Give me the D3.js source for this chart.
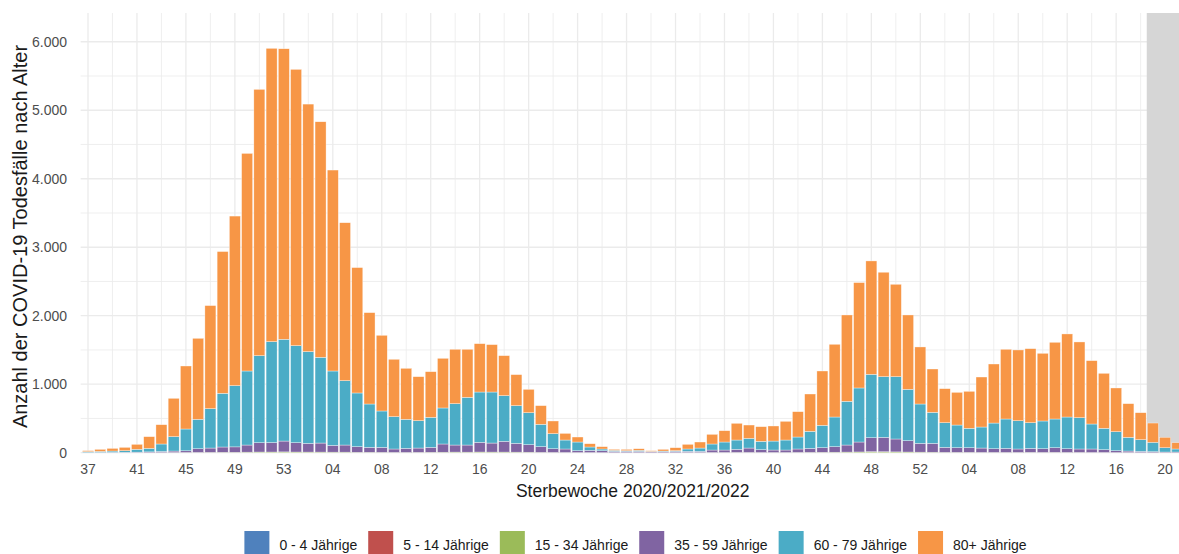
<!DOCTYPE html>
<html lang="de">
<head>
    <meta charset="UTF-8">
    <title>COVID-19 Todesfälle nach Alter</title>
    <style>
        body { margin: 0; background: #fff; }
        svg { display: block; font-family: "Liberation Sans", Arial, sans-serif; }
    </style>
</head>
<body>
<script src="https://d3js.org/d3.v7.min.js"></script>
<script>
    // Sterbewochen 2020-37 ... 2022-21
    var weeks = [
        '2020-37','2020-38','2020-39','2020-40','2020-41','2020-42','2020-43','2020-44','2020-45','2020-46',
        '2020-47','2020-48','2020-49','2020-50','2020-51','2020-52','2020-53',
        '2021-01','2021-02','2021-03','2021-04','2021-05','2021-06','2021-07','2021-08','2021-09','2021-10',
        '2021-11','2021-12','2021-13','2021-14','2021-15','2021-16','2021-17','2021-18','2021-19','2021-20',
        '2021-21','2021-22','2021-23','2021-24','2021-25','2021-26','2021-27','2021-28','2021-29','2021-30',
        '2021-31','2021-32','2021-33','2021-34','2021-35','2021-36','2021-37','2021-38','2021-39','2021-40',
        '2021-41','2021-42','2021-43','2021-44','2021-45','2021-46','2021-47','2021-48','2021-49','2021-50',
        '2021-51','2021-52',
        '2022-01','2022-02','2022-03','2022-04','2022-05','2022-06','2022-07','2022-08','2022-09','2022-10',
        '2022-11','2022-12','2022-13','2022-14','2022-15','2022-16','2022-17','2022-18','2022-19','2022-20',
        '2022-21'
    ];

    var ageGroups = ['0 - 4 Jährige', '5 - 14 Jährige', '15 - 34 Jährige', '35 - 59 Jährige', '60 - 79 Jährige', '80+ Jährige'];
    var colors = ['#4f81bd', '#c0504d', '#9bbb59', '#8064a2', '#4bacc6', '#f79646'];

    var age0to4 = [
        0,0,0,0,0,0,0,0,0,0, 0,0,0,0,1,0,1,0,0,0, 0,0,0,0,0,0,0,0,0,0,
        1,0,0,0,0,0,0,0,0,0, 0,0,0,0,0,0,0,0,0,0, 0,0,0,0,0,0,0,0,0,0,
        0,0,0,0,1,0,0,0,0,0, 0,0,0,0,0,0,0,1,0,0, 0,0,0,0,0,0,0,0,0,0
    ];
    var age5to14 = [
        0,0,0,0,0,0,0,0,0,0, 0,0,0,0,0,0,0,0,0,0, 0,0,0,0,0,0,0,0,0,0,
        0,0,1,0,0,0,0,0,0,0, 0,0,0,0,0,0,0,0,0,0, 0,0,0,0,0,0,0,0,0,0,
        0,0,0,0,0,1,0,0,0,0, 0,0,0,0,0,0,0,0,0,1, 0,0,0,0,0,0,0,0,0,0
    ];
    var age15to34 = [
        0,0,0,1,1,1,2,2,3,4, 5,6,6,8,9,10,11,10,9,9, 8,8,6,6,5,4,4,5,6,7,
        8,8,9,9,9,8,7,5,4,3, 2,2,1,1,1,1,1,1,1,2, 2,3,3,4,4,3,3,3,4,5,
        6,7,9,11,14,13,12,10,8,7, 5,5,5,4,4,4,4,4,4,4, 4,4,3,3,2,2,1,1,1,0
    ];
    var age35to59 = [
        3,4,5,5,7,11,16,22,25,54, 63,77,79,104,136,138,158,136,127,132, 99,104,82,72,73,50,59,63,72,120,
        103,104,141,132,157,128,110,83,54,51, 27,32,28,18,18,18,14,14,18,17, 17,36,36,45,64,41,36,36,50,58,
        67,81,103,145,204,210,188,165,128,129, 73,68,68,64,54,59,50,58,54,68, 54,50,51,41,27,22,18,14,9,10
    ];
    var age60to79 = [
        12,15,19,23,41,51,109,210,318,429, 575,784,894,1081,1271,1474,1486,1417,1340,1252, 1086,940,784,633,531,472,424,400,438,526,
        604,696,735,745,667,551,467,326,220,131, 127,49,25,15,10,15,4,9,10,35, 49,88,117,136,141,122,131,146,175,249,
        326,433,638,789,925,886,910,750,575,453, 360,331,283,307,375,429,413,375,405,419, 463,457,365,312,278,200,171,136,63,44
    ];
    var age80plus = [
        15,30,39,49,73,171,282,560,920,1183, 1505,2070,2476,3177,3888,4282,4242,4034,3614,3439, 2934,2306,1831,1334,1105,838,745,642,667,725,
        794,702,706,692,584,453,341,273,185,97, 73,48,34,15,20,24,10,25,44,68, 88,141,165,244,195,214,220,273,370,545,
        794,1062,1261,1539,1656,1525,1349,1086,833,633, 497,477,540,730,862,1018,1033,1081,988,1120, 1213,1106,925,803,638,492,394,282,151,92
    ];

    var yTicks = [0, 1000, 2000, 3000, 4000, 5000, 6000];
    var yMinor = [500, 1500, 2500, 3500, 4500, 5500];
    var incompleteFrom = '2022-19';   // grau hinterlegt: noch unvollständige Wochen

    var width = 1179,
        height = 554,
        panelTop = 13,
        panelBottom = 452.7,
        step = 12.24,
        firstCenter = 88;

    var series = [age0to4, age5to14, age15to34, age35to59, age60to79, age80plus];

    var table = weeks.map(function(w, i) {
        var row = { week: w };
        ageGroups.forEach(function(g, k) { row[g] = series[k][i]; });
        return row;
    });

    var stacked = d3.stack().keys(ageGroups)(table);

    var svg = d3.select('body').append('svg')
                .attr('width', width)
                .attr('height', height);

    var padIn = 0.1,
        padOut = 0.6 - (1 - padIn) / 2,
        panelLeft = firstCenter - 0.6 * step,
        panelRight = panelLeft + step * (weeks.length - padIn + 2 * padOut);

    var x = d3.scaleBand()
              .domain(weeks)
              .range([panelLeft, panelRight])
              .paddingInner(padIn)
              .paddingOuter(padOut);

    var y = d3.scaleLinear()
              .domain([0, 6420])
              .range([panelBottom, panelTop]);

    function center(w) { return x(w) + x.bandwidth() / 2; }

    // grid
    var grid = svg.append('g').attr('class', 'grid');
    grid.selectAll('line.ymin').data(yMinor).enter().append('line')
        .attr('x1', panelLeft).attr('x2', panelRight)
        .attr('y1', y).attr('y2', y)
        .attr('stroke', '#ebebeb').attr('stroke-width', 0.8);
    grid.selectAll('line.ymaj').data(yTicks).enter().append('line')
        .attr('x1', panelLeft).attr('x2', panelRight)
        .attr('y1', y).attr('y2', y)
        .attr('stroke', '#ebebeb').attr('stroke-width', 1.3);

    var xMajor = weeks.filter(function(w, i) { return i % 4 === 0; });
    var xMinor = weeks.filter(function(w, i) { return i % 4 === 2; });
    grid.selectAll('line.xmin').data(xMinor).enter().append('line')
        .attr('x1', center).attr('x2', center)
        .attr('y1', panelTop).attr('y2', panelBottom)
        .attr('stroke', '#ebebeb').attr('stroke-width', 0.8);
    grid.selectAll('line.xmaj').data(xMajor).enter().append('line')
        .attr('x1', center).attr('x2', center)
        .attr('y1', panelTop).attr('y2', panelBottom)
        .attr('stroke', '#ebebeb').attr('stroke-width', 1.3);

    // incomplete weeks band
    svg.append('rect')
       .attr('x', center(incompleteFrom) - x.step() / 2)
       .attr('y', panelTop)
       .attr('width', panelRight - (center(incompleteFrom) - x.step() / 2))
       .attr('height', panelBottom - panelTop)
       .attr('fill', '#d6d6d6');

    // bars
    svg.append('g').attr('class', 'bars')
       .selectAll('g')
       .data(stacked)
       .enter().append('g')
       .attr('fill', function(d, k) { return colors[k]; })
       .selectAll('rect')
       .data(function(d) { return d; })
       .enter().append('rect')
       .attr('x', function(d) { return x(d.data.week); })
       .attr('width', x.bandwidth())
       .attr('y', function(d) { return y(d[1]); })
       .attr('height', function(d) { return y(d[0]) - y(d[1]); })
       .attr('stroke', '#ffffff')
       .attr('stroke-opacity', 0.7)
       .attr('stroke-width', 0.5);

    // axes
    var xAxis = d3.axisBottom(x)
                  .tickValues(xMajor)
                  .tickSize(0)
                  .tickPadding(11)
                  .tickFormat(function(w) { return w.slice(5); });
    var gx = svg.append('g')
                .attr('class', 'x-axis')
                .attr('transform', 'translate(0,' + panelBottom + ')')
                .call(xAxis);
    gx.select('.domain').remove();
    gx.selectAll('text')
      .attr('fill', '#4d4d4d')
      .attr('font-size', 14)
      .attr('font-family', '"Liberation Sans", Arial, sans-serif');

    var yAxis = d3.axisLeft(y)
                  .tickValues(yTicks)
                  .tickSize(0)
                  .tickPadding(0)
                  .tickFormat(function(v) { return d3.format(',')(v).replace(/,/g, '.'); });
    var gy = svg.append('g')
                .attr('class', 'y-axis')
                .attr('transform', 'translate(67,0)')
                .call(yAxis);
    gy.select('.domain').remove();
    gy.selectAll('text')
      .attr('fill', '#4d4d4d')
      .attr('font-size', 14)
      .attr('font-family', '"Liberation Sans", Arial, sans-serif');

    // titles
    svg.append('text')
       .attr('x', (panelLeft + panelRight) / 2)
       .attr('y', 497)
       .attr('text-anchor', 'middle')
       .attr('font-size', 17.5)
       .attr('fill', '#1a1a1a')
       .text('Sterbewoche 2020/2021/2022');

    svg.append('text')
       .attr('transform', 'translate(27,236.5) rotate(-90)')
       .attr('text-anchor', 'middle')
       .attr('font-size', 20)
       .attr('fill', '#1a1a1a')
       .text('Anzahl der COVID-19 Todesfälle nach Alter');

    // legend
    var legend = svg.append('g').attr('class', 'legend');
    var items = legend.selectAll('g')
                      .data(ageGroups)
                      .enter().append('g');
    items.append('rect')
         .attr('width', 25).attr('height', 25)
         .attr('y', 531)
         .attr('fill', function(d, k) { return colors[k]; });
    items.append('text')
         .attr('x', 35)
         .attr('y', 550)
         .attr('font-size', 14)
         .attr('fill', '#1a1a1a')
         .text(function(d) { return d; });

    var offsets = [], total = 0;
    items.each(function(d, k) {
        var w = d3.select(this).select('text').node().getComputedTextLength();
        offsets.push(total);
        total += 35 + w + (k < ageGroups.length - 1 ? 11 : 0);
    });
    var legendLeft = 635.5 - total / 2;
    items.attr('transform', function(d, k) { return 'translate(' + (legendLeft + offsets[k]) + ',0)'; });
</script>
</body>
</html>
